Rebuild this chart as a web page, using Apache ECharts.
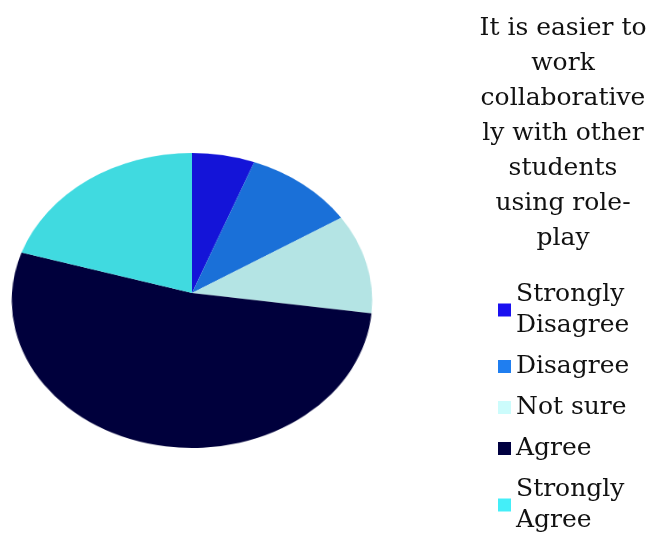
<!DOCTYPE html>
<html>
<head>
<meta charset="utf-8">
<script src="https://cdn.jsdelivr.net/npm/echarts@6/dist/echarts.min.js"></script>
<style>
  html, body { margin: 0; padding: 0; background: #ffffff; overflow: hidden; }
  /* the pie is drawn round, then tilted back in perspective like a disc on a table */
  #pie { position: absolute; left: 0; top: 0; width: 400px; height: 537px;
         transform-origin: 192px 293px;
         transform: perspective(2043px) rotateX(35.2deg); }
  #key { position: absolute; left: 0; top: 0; width: 649px; height: 537px; }
</style>
</head>
<body>
<div id="pie"></div>
<div id="key"></div>
<script>
// Survey responses (percent of students)
const categories = ['Strongly Disagree', 'Disagree', 'Not sure', 'Agree', 'Strongly Agree'];
const shares = [5.9, 10.3, 11.0, 52.3, 20.5];
const legendLabels = ['Strongly\nDisagree', 'Disagree', 'Not sure', 'Agree', 'Strongly\nAgree'];
const sliceColors = ['#1414d8', '#1a70d8', '#b4e4e4', '#00003c', '#40dae0'];
const keyColors = ['#1a10f0', '#1f7ef0', '#ccfcfc', '#000040', '#44eef8'];
const titleText = 'It is easier to\nwork\ncollaborative\nly with other\nstudents\nusing role-\nplay';

const seriesData = categories.map((name, i) => ({
  name: name,
  value: shares[i],
  itemStyle: { color: sliceColors[i] }
}));

const pieChart = echarts.init(document.getElementById('pie'), null, { renderer: 'canvas' });
pieChart.setOption({
  animation: false,
  series: [{
    type: 'pie',
    center: [192, 293],
    radius: 180,
    startAngle: 90,
    clockwise: true,
    silent: true,
    label: { show: false },
    labelLine: { show: false },
    itemStyle: { borderWidth: 0 },
    data: seriesData
  }]
});

const keyChart = echarts.init(document.getElementById('key'), null, { renderer: 'canvas' });
keyChart.setOption({
  animation: false,
  title: {
    text: titleText,
    left: 558,
    top: 6,
    textAlign: 'center',
    textStyle: {
      fontFamily: 'DejaVu Serif',
      fontSize: 25,
      fontWeight: 'normal',
      color: '#111111',
      lineHeight: 35,
      align: 'center'
    }
  },
  legend: {
    orient: 'vertical',
    left: 493,
    top: 274,
    height: 300,
    itemWidth: 13,
    itemHeight: 13,
    itemGap: 10,
    icon: 'rect',
    selectedMode: false,
    textStyle: {
      fontFamily: 'DejaVu Serif',
      fontSize: 25,
      color: '#111111',
      lineHeight: 31
    },
    formatter: name => legendLabels[categories.indexOf(name)],
    data: categories.map((name, i) => ({ name: name, itemStyle: { color: keyColors[i] } }))
  },
  series: [{
    type: 'pie',
    center: [-100, -100],
    radius: 1,
    silent: true,
    label: { show: false },
    labelLine: { show: false },
    data: seriesData
  }]
});
</script>
</body>
</html>
